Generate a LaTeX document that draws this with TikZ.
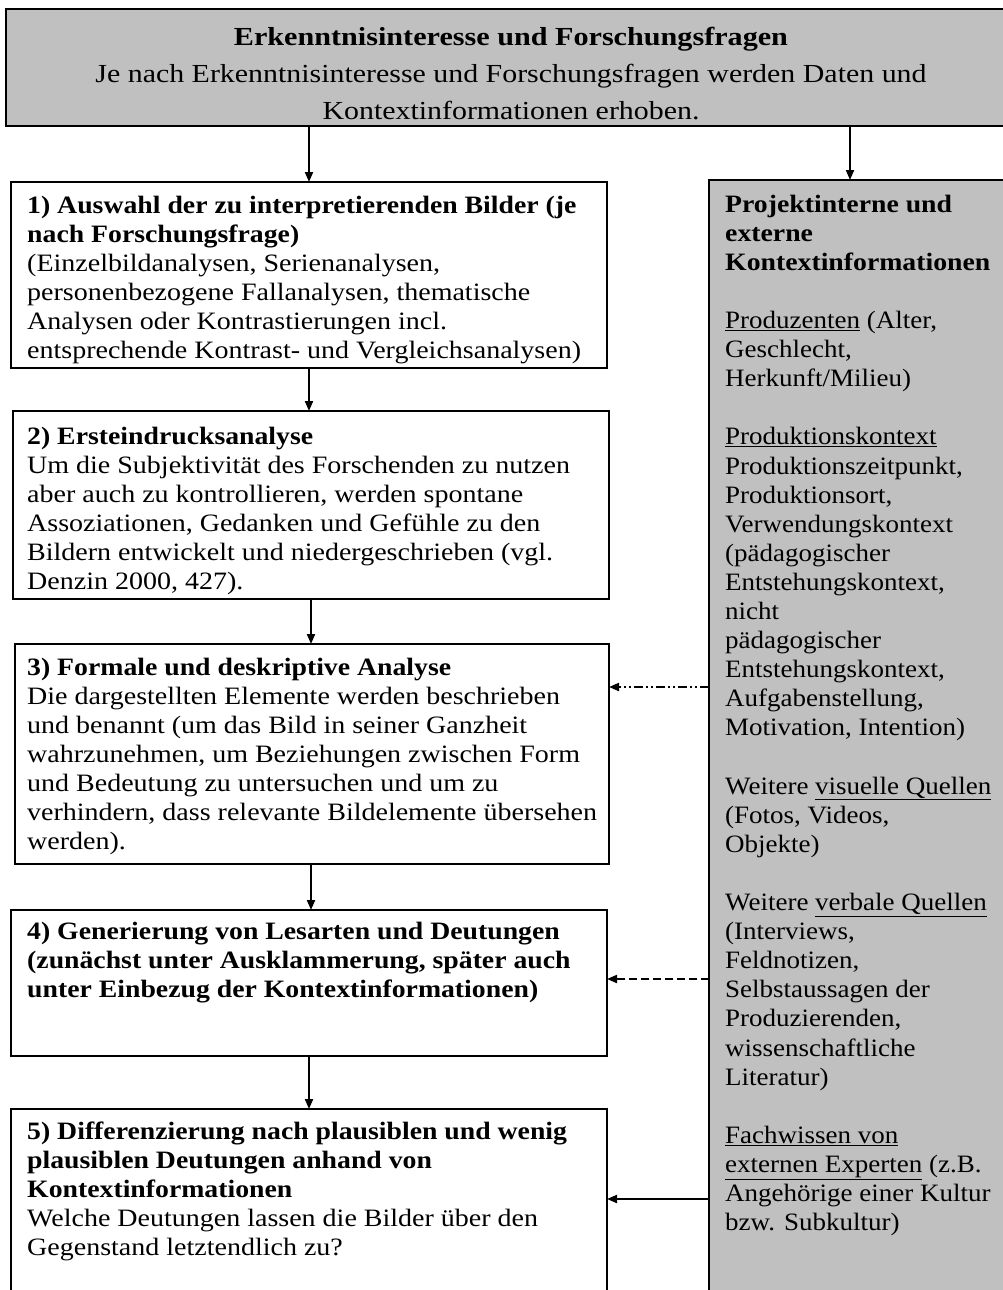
\documentclass[tikz,border=0pt]{standalone}
\usepackage{fontspec}
\setmainfont{Liberation Serif}[FakeStretch=1.12, BoldFeatures={FakeStretch=1.11}]
\newfontfamily\topfont{Liberation Serif}[FakeStretch=1.15, BoldFeatures={FakeStretch=1.16}]
\newfontfamily\rbfont{Liberation Serif}[FakeStretch=1.08, BoldFeatures={FakeStretch=1.11}]
\usetikzlibrary{arrows.meta,calc}
\definecolor{boxgray}{RGB}{192,192,192}
\begin{document}
\begin{tikzpicture}[x=1pt,y=-1pt,
  box/.style={draw=black, line width=1.6pt, anchor=north west, inner sep=0pt, outer sep=0pt},
  txt/.style={anchor=north west, inner sep=0pt, align=left, font=\fontsize{25}{29.1}\selectfont},
  rbtxt/.style={txt, font=\rbfont\fontsize{25}{29.1}\selectfont},
  toptxt/.style={anchor=north, inner sep=0pt, align=center, font=\topfont\fontsize{26}{37}\selectfont},
  arr/.style={line width=2pt, -{Triangle[length=10pt,width=8pt]}},
  dashdotdot/.style={dash pattern=on 9pt off 3pt on 2pt off 3pt on 2pt off 3pt},
  dashlong/.style={dash pattern=on 8pt off 4pt}]
\clip (0,0) rectangle (1003,1290);
\useasboundingbox (0,0) rectangle (1003,1290);

% boxes
\node[box, fill=boxgray, minimum width=1020pt, minimum height=117pt] (top) at (6,9) {};
\node[box, minimum width=596pt, minimum height=186pt] (b1) at (11,182) {};
\node[box, minimum width=596pt, minimum height=188pt] (b2) at (13,411) {};
\node[box, minimum width=594pt, minimum height=220pt] (b3) at (15,644) {};
\node[box, minimum width=596pt, minimum height=146pt] (b4) at (11,910) {};
\node[box, minimum width=596pt, minimum height=260pt] (b5) at (11,1109) {};
\node[box, fill=boxgray, minimum width=320pt, minimum height=1200pt] (rb) at (709,180) {};

% texts (first-line baseline = top + strut height)
\node[toptxt] (ttop) at (511,19.1) {\strut\textbf{Erkenntnisinteresse und Forschungsfragen}\\
Je nach Erkenntnisinteresse und Forschungsfragen werden Daten und\\
Kontextinformationen erhoben.};

\node[txt] (t1) at (27,192.6) {\strut\textbf{1) Auswahl der zu interpretierenden Bilder (je}\\
\textbf{nach Forschungsfrage)}\\
(Einzelbildanalysen, Serienanalysen,\\
personenbezogene Fallanalysen, thematische\\
Analysen oder Kontrastierungen incl.\\
entsprechende Kontrast- und Vergleichsanalysen)};

\node[txt] (t2) at (27,423.6) {\strut\textbf{2) Ersteindrucksanalyse}\\
Um die Subjektivität des Forschenden zu nutzen\\
aber auch zu kontrollieren, werden spontane\\
Assoziationen, Gedanken und Gefühle zu den\\
Bildern entwickelt und niedergeschrieben (vgl.\\
Denzin 2000, 427).};

\node[txt] (t3) at (27,654.6) {\strut\textbf{3) Formale und deskriptive Analyse}\\
Die dargestellten Elemente werden beschrieben\\
und benannt (um das Bild in seiner Ganzheit\\
wahrzunehmen, um Beziehungen zwischen Form\\
und Bedeutung zu untersuchen und um zu\\
verhindern, dass relevante Bildelemente übersehen\\
werden).};

\node[txt] (t4) at (27,918.6) {\strut\textbf{4) Generierung von Lesarten und Deutungen}\\
\textbf{(zunächst unter Ausklammerung, später auch}\\
\textbf{unter Einbezug der Kontextinformationen)}};

\node[txt] (t5) at (27,1118.6) {\strut\textbf{5) Differenzierung nach plausiblen und wenig}\\
\textbf{plausiblen Deutungen anhand von}\\
\textbf{Kontextinformationen}\\
Welche Deutungen lassen die Bilder über den\\
Gegenstand letztendlich zu?};

\node[rbtxt] (tr) at (725,191.6) {\strut\textbf{Projektinterne und}\\
\textbf{externe}\\
\textbf{Kontextinformationen}\\[29.1pt]
\underline{Produzenten} (Alter,\\
Geschlecht,\\
Herkunft/Milieu)\\[29.1pt]
\underline{Produktionskontext}\\
Produktionszeitpunkt,\\
Produktionsort,\\
Verwendungskontext\\
(pädagogischer\\
Entstehungskontext,\\
nicht\\
pädagogischer\\
Entstehungskontext,\\
Aufgabenstellung,\\
Motivation, Intention)\\[29.1pt]
Weitere \underline{visuelle Quellen}\\
(Fotos, Videos,\\
Objekte)\\[29.1pt]
Weitere \underline{verbale Quellen}\\
(Interviews,\\
Feldnotizen,\\
Selbstaussagen der\\
Produzierenden,\\
wissenschaftliche\\
Literatur)\\[29.1pt]
\underline{Fachwissen von}\\
\underline{externen Experten} (z.B.\\
Angehörige einer Kultur\\
bzw. Subkultur)};

% connectors
\coordinate (cx) at (850,0);
\draw[arr] (b1.north |- top.south) -- (b1.north);
\draw[arr] (top.south -| cx) -- (rb.north -| cx);
\draw[arr] (b1.south) -- (b2.north -| b1.south);
\draw[arr] (b2.south) -- (b3.north -| b2.south);
\draw[arr] (b3.south -| b2.south) -- (b4.north -| b2.south);
\draw[arr] (b4.south) -- (b5.north);
\coordinate (y3) at (0,687);
\coordinate (y4) at (0,979);
\coordinate (y5) at (0,1199);
\draw[arr, dashdotdot] (rb.west |- y3) -- (b3.east |- y3);
\draw[arr, dashlong] (rb.west |- y4) -- (b4.east |- y4);
\draw[arr] (rb.west |- y5) -- (b5.east |- y5);
\end{tikzpicture}
\end{document}
